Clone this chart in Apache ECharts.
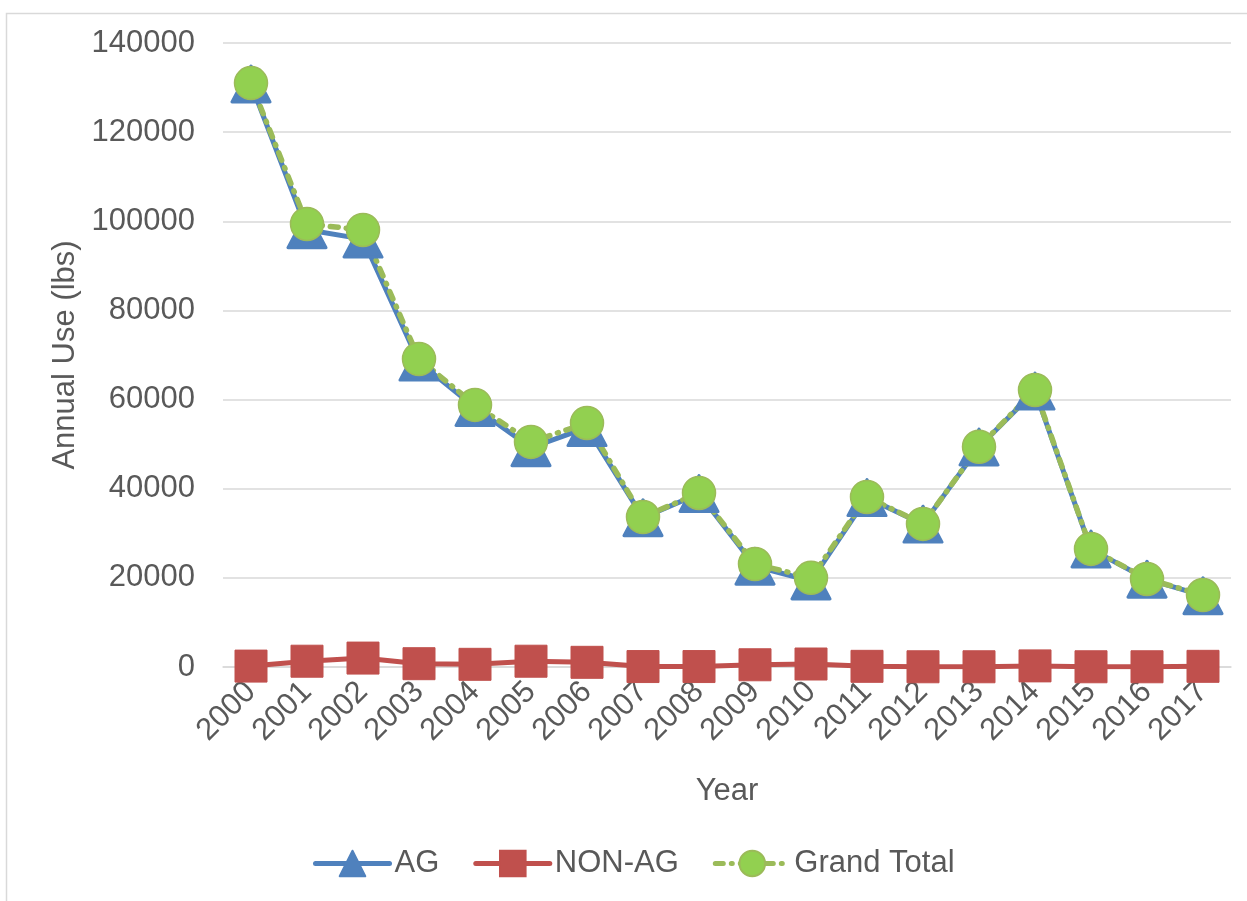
<!DOCTYPE html>
<html>
<head>
<meta charset="utf-8">
<script src="https://cdn.jsdelivr.net/npm/echarts@6/dist/echarts.min.js"></script>
<style>html,body{margin:0;padding:0;background:#fff;}#c{width:1247px;height:901px;}</style>
</head>
<body>
<div id="c"></div>
<script>
const years = ['2000','2001','2002','2003','2004','2005','2006','2007','2008','2009','2010','2011','2012','2013','2014','2015','2016','2017'];
const agValues = [130800, 98100, 96000, 68400, 58200, 49200, 53700, 33500, 38900, 22600, 19300, 38000, 32050, 49350, 61900, 26450, 19700, 16000];
const nonAgValues = [200, 1300, 2000, 740, 600, 1300, 1050, 100, 100, 500, 670, 150, 50, 50, 250, 50, 50, 150];
const totalValues = [131000, 99400, 98060, 69100, 58800, 50500, 54750, 33650, 39050, 23100, 20000, 38150, 32100, 49400, 62150, 26500, 19750, 16150];
const yTicks = { min: 0, max: 140000, interval: 20000 };

const txt = '#595959';
const font = 'Liberation Sans, Arial, sans-serif';
const chart = echarts.init(document.getElementById('c'), null, { renderer: 'canvas' });
chart.setOption({
  animation: false,
  backgroundColor: '#fff',
  textStyle: { fontFamily: font },
  graphic: [{
    type: 'rect', left: 4, top: 11, z: -10,
    shape: { width: 1300, height: 1000 },
    style: { fill: 'none', stroke: '#d9d9d9', lineWidth: 1.5 }
  }],
  grid: { left: 223, right: 16, top: 43, bottom: 234 },
  legend: {
    left: 308, top: 843, itemGap: 34, itemWidth: 74, itemHeight: 32,
    lineStyle: { width: 5, cap: 'round' },
    textStyle: { color: txt, fontSize: 31, fontFamily: font },
    data: ['AG', 'NON-AG', 'Grand Total']
  },
  xAxis: {
    type: 'category', data: years, boundaryGap: true,
    name: 'Year', nameLocation: 'middle', nameGap: 109,
    nameTextStyle: { color: txt, fontSize: 31, fontFamily: font },
    axisLine: { lineStyle: { color: '#d9d9d9', width: 1.5 } },
    axisTick: { show: false },
    axisLabel: { rotate: 45, color: txt, fontSize: 31, margin: 20, fontFamily: font, interval: 0 }
  },
  yAxis: {
    type: 'value', min: yTicks.min, max: yTicks.max, interval: yTicks.interval,
    name: 'Annual Use (lbs)', nameLocation: 'middle', nameGap: 127, nameRotate: 90,
    nameTextStyle: { color: txt, fontSize: 31, fontFamily: font },
    axisLine: { show: false }, axisTick: { show: false },
    splitLine: { lineStyle: { color: '#d9d9d9', width: 1.5 } },
    axisLabel: { color: txt, fontSize: 31, margin: 28, fontFamily: font, formatter: function (v) { return String(v); } }
  },
  series: [
    {
      name: 'AG', type: 'line', data: agValues,
      symbol: 'triangle', symbolSize: [38, 36],
      lineStyle: { color: '#4F81BD', width: 5, cap: 'round', join: 'round' },
      itemStyle: { color: '#4F81BD', borderColor: '#4F81BD', borderWidth: 3, borderJoin: 'round' }
    },
    {
      name: 'NON-AG', type: 'line', data: nonAgValues,
      symbol: 'rect', symbolSize: 32,
      lineStyle: { color: '#C0504D', width: 5, cap: 'round', join: 'round' },
      itemStyle: { color: '#C0504D', borderColor: '#C0504D', borderWidth: 1 }
    },
    {
      name: 'Grand Total', type: 'line', data: totalValues,
      symbol: 'circle', symbolSize: 33,
      lineStyle: { color: '#9BBB59', width: 5.5, type: [8, 8, 1, 8], cap: 'round' },
      itemStyle: { color: '#92D050', borderColor: '#9BBB59', borderWidth: 1.5 }
    }
  ]
});
</script>
</body>
</html>
